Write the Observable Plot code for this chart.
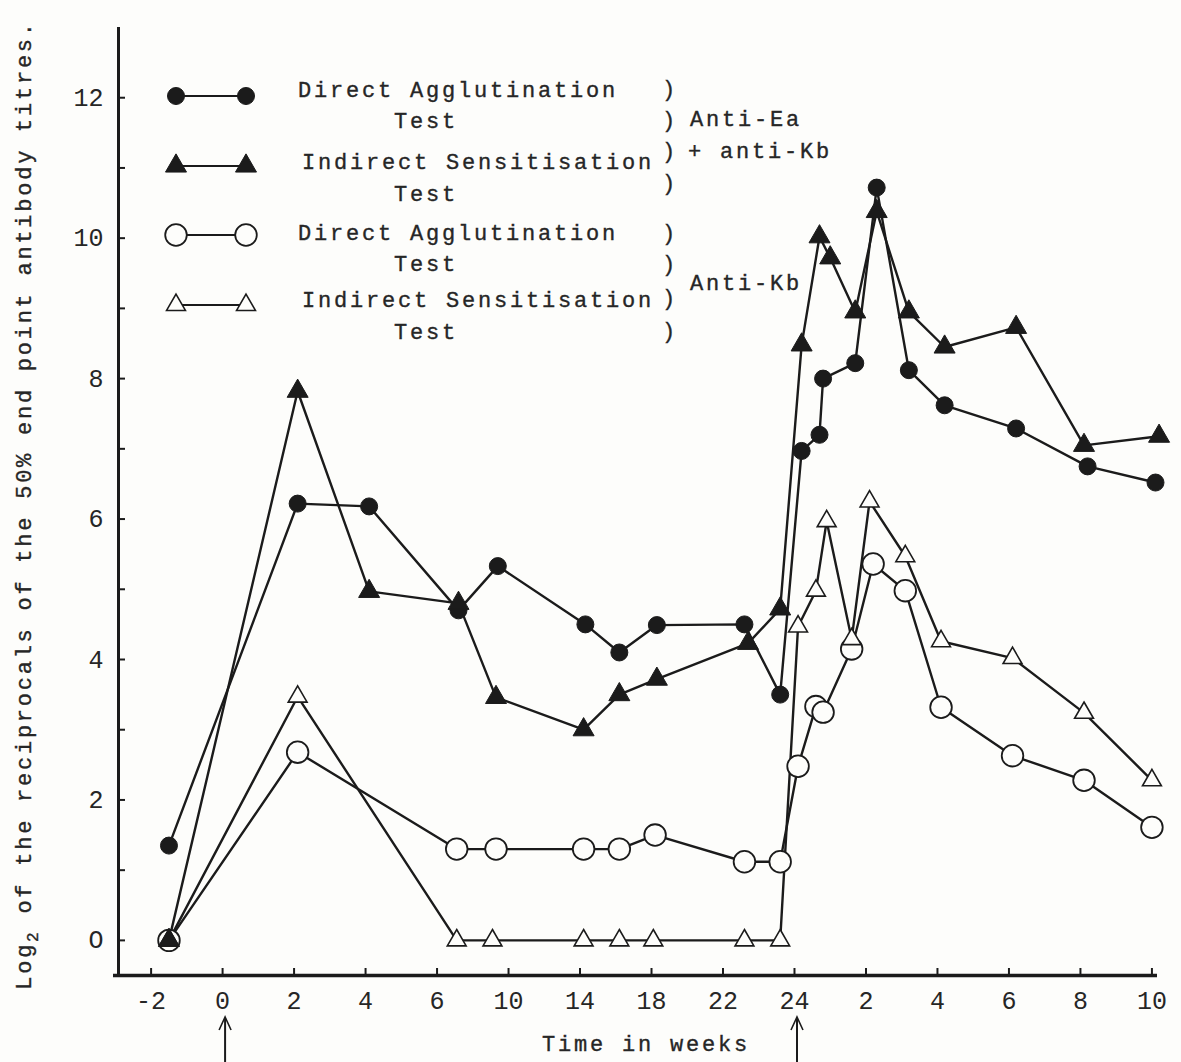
<!DOCTYPE html>
<html>
<head>
<meta charset="utf-8">
<script src="https://cdn.jsdelivr.net/npm/d3@7"></script>
<script src="https://cdn.jsdelivr.net/npm/@observablehq/plot@0.6"></script>
<style>
  html, body { margin: 0; padding: 0; background: #fdfdfb; }
  #chart svg { display: block; }
</style>
</head>
<body>
<div id="chart"></div>
<script>
// ---------- data ----------
// tick weeks (uneven spacing on the original axis) and their printed labels
const tickWeeks  = [-2, 0, 2, 4, 6, 10, 14, 18, 22, 24, 26, 28, 30, 32, 34];
const tickLabels = ["-2", "0", "2", "4", "6", "10", "14", "18", "22", "24", "2", "4", "6", "8", "10"];
const yLabelTicks = [0, 2, 4, 6, 8, 10, 12];
const yMinorTicks = [0, 1, 2, 3, 4, 5, 6, 7, 8, 9, 10, 11, 12];
const injectionWeeks = [0, 24];

// Direct Agglutination Test, anti-Ea + anti-Kb (filled circles)
const daEaKbWeeks  = [-1.5, 2.1, 4.1, 7.2, 9.4, 14.3, 16.2, 18.3, 22.6, 23.6, 24.2, 24.7, 24.8, 25.7, 26.3, 27.2, 28.2, 30.2, 32.2, 34.1];
const daEaKbValues = [1.35, 6.22, 6.18, 4.70, 5.33, 4.50, 4.10, 4.49, 4.50, 3.50, 6.97, 7.20, 8.00, 8.22, 10.72, 8.12, 7.62, 7.29, 6.75, 6.52];

// Indirect Sensitisation Test, anti-Ea + anti-Kb (filled triangles)
const isEaKbWeeks  = [-1.5, 2.1, 4.1, 7.2, 9.3, 14.2, 16.2, 18.3, 22.7, 23.6, 24.2, 24.7, 25.0, 25.7, 26.3, 27.2, 28.2, 30.2, 32.1, 34.2];
const isEaKbValues = [0, 7.82, 4.97, 4.80, 3.46, 3.00, 3.50, 3.72, 4.23, 4.72, 8.48, 10.02, 9.72, 8.95, 10.38, 8.95, 8.45, 8.73, 7.05, 7.18];

// Direct Agglutination Test, anti-Kb (open circles)
const daKbWeeks  = [-1.5, 2.1, 7.1, 9.3, 14.2, 16.2, 18.2, 22.6, 23.6, 24.1, 24.6, 24.8, 25.6, 26.2, 27.1, 28.1, 30.1, 32.1, 34.0];
const daKbValues = [0, 2.68, 1.30, 1.30, 1.30, 1.30, 1.50, 1.12, 1.12, 2.48, 3.33, 3.25, 4.15, 5.36, 4.98, 3.32, 2.63, 2.28, 1.61];

// Indirect Sensitisation Test, anti-Kb (open triangles)
const isKbWeeks  = [-1.5, 2.1, 7.1, 9.1, 14.2, 16.2, 18.1, 22.6, 23.6, 24.1, 24.6, 24.9, 25.6, 26.1, 27.1, 28.1, 30.1, 32.1, 34.0];
const isKbValues = [0, 3.47, 0, 0, 0, 0, 0, 0, 0, 4.47, 4.98, 5.97, 4.29, 6.25, 5.47, 4.26, 4.02, 3.24, 2.28];

// ---------- setup ----------
const ink = "#1b1b1b";
const textInk = "#262626";
const mono = "'Liberation Mono', 'Courier New', monospace";

// map weeks onto the evenly spaced tick positions of the printed axis
const weekToPos = d3.scaleLinear().domain(tickWeeks).range(tickWeeks.map((_, i) => i));

const seriesDefs = [
  {key: "daEaKb", weeks: daEaKbWeeks, values: daEaKbValues},
  {key: "isEaKb", weeks: isEaKbWeeks, values: isEaKbValues},
  {key: "daKb",   weeks: daKbWeeks,   values: daKbValues},
  {key: "isKb",   weeks: isKbWeeks,   values: isKbValues}
];
const rows = seriesDefs.flatMap(s => s.weeks.map((w, i) => ({key: s.key, week: w, pos: weekToPos(w), value: s.values[i]})));
const bySeries = k => rows.filter(d => d.key === k);

const styles = {
  daEaKb: {symbol: "circle",   r: 8.5, fill: ink,   stroke: ink, strokeWidth: 1},
  isEaKb: {symbol: "triangle", r: 7.8, fill: ink,   stroke: ink, strokeWidth: 1},
  daKb:   {symbol: "circle",   r: 10.8, fill: "#fdfdfb", stroke: ink, strokeWidth: 1.8},
  isKb:   {symbol: "triangle", r: 7.0, fill: "#fdfdfb", stroke: ink, strokeWidth: 1.6}
};

const W = 1181, H = 1062;
const mL = 118, mR = 26, mT = 27, mB = 87;
const frameW = W - mL - mR, frameH = H - mT - mB;
const xDomain = [-0.456, 14.05];
const yDomain = [-0.5, 13];

const dotMark = k => Plot.dot(bySeries(k), {x: "pos", y: "value", ...styles[k]});

const plot = Plot.plot({
  width: W,
  height: H,
  marginLeft: mL, marginRight: mR, marginTop: mT, marginBottom: mB,
  style: {fontFamily: mono, fontSize: "24px", color: textInk, background: "transparent", overflow: "visible"},
  x: {domain: xDomain, axis: null},
  y: {domain: yDomain, axis: null},
  marks: [
    // x-axis tick marks (upward from axis)
    Plot.ruleX(tickWeeks.map((_, i) => i), {x: d => d, insetTop: frameH - 7, stroke: ink, strokeWidth: 2}),
    Plot.axisX(tickWeeks.map((_, i) => i), {tickSize: 0, tickPadding: 16, tickFormat: i => tickLabels[i], fontSize: 25, fill: textInk, label: null}),
    // y-axis tick marks (inward)
    Plot.ruleY(yMinorTicks, {y: d => d, insetRight: frameW - 7, stroke: ink, strokeWidth: 2}),
    Plot.axisY(yLabelTicks, {tickSize: 0, tickPadding: 15, tickFormat: d => d === 0 ? "O" : String(d), fontSize: 25, fill: textInk, label: null}),
    // axis lines
    Plot.ruleY([yDomain[0]], {stroke: ink, strokeWidth: 3.5, insetLeft: -5, insetRight: -2}),
    Plot.ruleX([xDomain[0]], {stroke: ink, strokeWidth: 3}),
    // series lines
    Plot.line(rows, {x: "pos", y: "value", z: "key", stroke: ink, strokeWidth: 2.4, curve: "linear"}),
    // markers
    dotMark("daKb"),
    dotMark("isKb"),
    dotMark("daEaKb"),
    dotMark("isEaKb")
  ]
});

document.getElementById("chart").append(plot);

// ---------- annotations: legend, axis titles, injection arrows ----------
const svg = d3.select(plot);
const xs = plot.scale("x");
const g = svg.append("g").attr("font-family", mono).attr("fill", textInk)
  .attr("stroke", textInk).attr("stroke-width", 0.35);

const txt = (x, y, s, opts = {}) => g.append("text")
  .attr("x", x).attr("y", y).attr("dy", "0.36em")
  .attr("font-size", opts.size || 22)
  .attr("letter-spacing", opts.ls != null ? opts.ls : 2.8)
  .attr("text-anchor", opts.anchor || "start")
  .attr("xml:space", "preserve")
  .text(s);

// legend entries
const legendRows = [
  {key: "daEaKb", y: 96,  lines: [["Direct Agglutination", 89], ["Test", 120]]},
  {key: "isEaKb", y: 166, lines: [["Indirect Sensitisation", 161], ["Test", 193]]},
  {key: "daKb",   y: 235, lines: [["Direct Agglutination", 232], ["Test", 263]]},
  {key: "isKb",   y: 305, lines: [["Indirect Sensitisation", 299], ["Test", 331]]}
];
const legX1 = 176, legX2 = 246;
legendRows.forEach(r => {
  const st = styles[r.key];
  g.append("line").attr("x1", legX1).attr("x2", legX2).attr("y1", r.y).attr("y2", r.y)
    .attr("stroke", ink).attr("stroke-width", 2);
  const sym = st.symbol === "circle" ? d3.symbolCircle : d3.symbolTriangle;
  const path = d3.symbol(sym, Math.PI * st.r * st.r)();
  [legX1, legX2].forEach(x => {
    g.append("path").attr("d", path).attr("transform", `translate(${x},${r.y})`)
      .attr("fill", st.fill).attr("stroke", st.stroke).attr("stroke-width", st.strokeWidth);
  });
  txt(r.key.startsWith("da") ? 298 : 302, r.lines[0][1], r.lines[0][0]);
  txt(394, r.lines[1][1], r.lines[1][0]);
});

// brackets
[88, 119, 150, 182, 232, 263, 297, 330].forEach(y => txt(662, y, ")", {ls: 0}));
txt(690, 118, "Anti-Ea");
txt(688, 150, "+ anti-Kb");
txt(690, 282, "Anti-Kb");

// x-axis title
txt(646, 1043, "Time in weeks", {anchor: "middle"});

// y-axis title (rotated, with subscript)
const yt = g.append("text")
  .attr("transform", "translate(31,505) rotate(-90)")
  .attr("text-anchor", "middle")
  .attr("font-size", 22)
  .attr("letter-spacing", 2.75);
yt.append("tspan").text("Log");
yt.append("tspan").attr("font-size", 16).attr("dy", 7).text("2");
yt.append("tspan").attr("dy", -7).text(" of the reciprocals of the 50% end point antibody titres.");

// injection arrows under the axis
injectionWeeks.forEach(w => {
  const x = xs.apply(weekToPos(w)) + 3;
  const top = 1017, bottom = 1062;
  g.append("line").attr("x1", x).attr("x2", x).attr("y1", top + 1).attr("y2", bottom)
    .attr("stroke", ink).attr("stroke-width", 2);
  g.append("path").attr("d", `M${x - 6},${top + 13}L${x},${top}L${x + 6},${top + 13}`)
    .attr("fill", "none").attr("stroke", ink).attr("stroke-width", 1.6);
});
</script>
</body>
</html>
